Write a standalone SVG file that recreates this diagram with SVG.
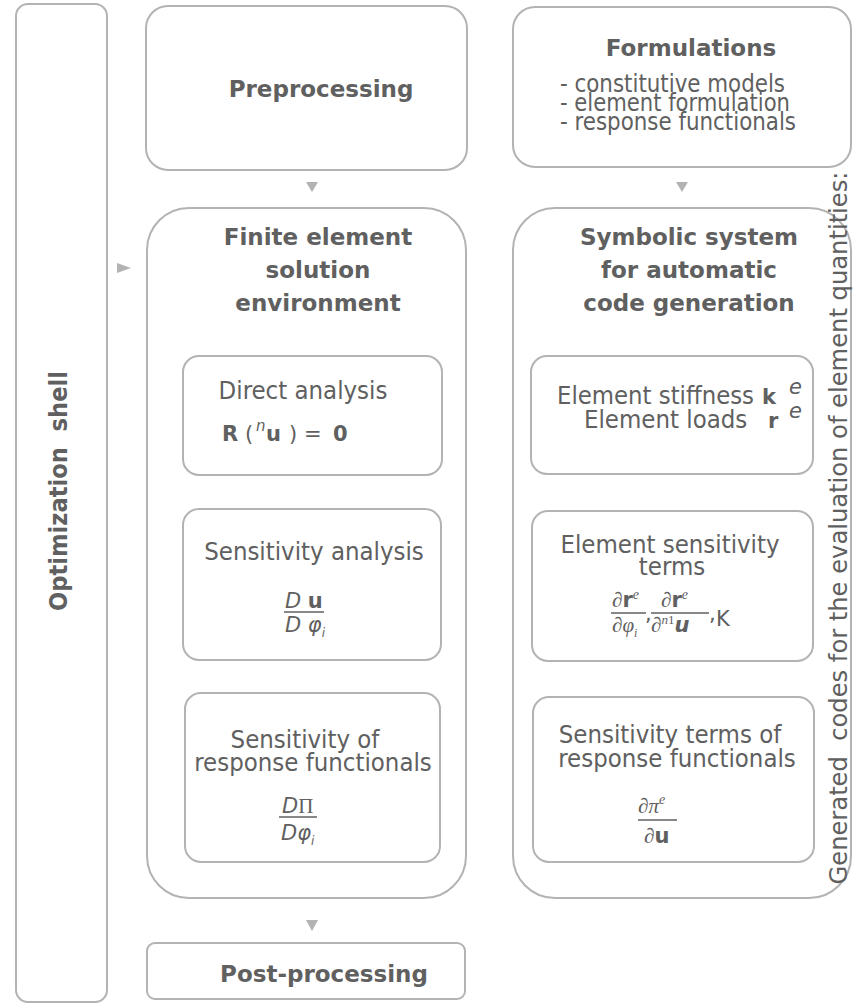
<svg xmlns="http://www.w3.org/2000/svg" width="853" height="1005" viewBox="0 0 853 1005">
<style>
.box{fill:#fff;stroke:#b3b3b3;stroke-width:2}
.h{font-family:"DejaVu Sans",sans-serif;font-weight:bold;font-size:23px;fill:#606060}
.t{font-family:"DejaVu Sans Condensed","DejaVu Sans",sans-serif;font-stretch:condensed;font-size:25.5px;fill:#606060}
.m{font-family:"DejaVu Sans",sans-serif;font-size:21px;fill:#606060}
.s{font-family:"Liberation Serif",serif;font-size:21px;fill:#606060}
.b{font-weight:bold}
.i{font-style:italic}
.fl{stroke:#606060;stroke-width:1.3}
.arr{fill:#b3b3b3}
</style>
<rect width="853" height="1005" fill="#fff"/>
<g id="optimization-shell">
<rect class="box" x="16" y="4" width="91" height="998" rx="12"/>
<text class="t b" xml:space="preserve" transform="translate(67,491) rotate(-90)" text-anchor="middle" font-size="29" textLength="240" lengthAdjust="spacingAndGlyphs">Optimization  shell</text>
</g>
<g id="preprocessing">
<rect class="box" x="146" y="6" width="321" height="164" rx="22"/>
<text class="h" x="321" y="97" text-anchor="middle">Preprocessing</text>
</g>
<g id="formulations">
<rect class="box" x="513" y="7" width="338" height="160" rx="22"/>
<text class="h" x="691" y="56" text-anchor="middle">Formulations</text>
<text class="t" x="560" y="92" textLength="225" lengthAdjust="spacingAndGlyphs">- constitutive models</text>
<text class="t" x="560" y="111" textLength="230" lengthAdjust="spacingAndGlyphs">- element formulation</text>
<text class="t" x="560" y="130" textLength="236" lengthAdjust="spacingAndGlyphs">- response functionals</text>
</g>
<g id="fe-environment">
<rect class="box" x="147" y="208" width="319" height="690" rx="42"/>
<text class="h" text-anchor="middle"><tspan x="318" y="245">Finite element</tspan><tspan x="318" y="278">solution</tspan><tspan x="318" y="311">environment</tspan></text>
</g>
<g id="direct-analysis">
<rect class="box" x="183" y="356" width="259" height="119" rx="16"/>
<text class="t" x="303" y="399" text-anchor="middle">Direct analysis</text>
<text class="m" y="441" font-size="24"><tspan class="b" x="222">R</tspan><tspan x="245">(</tspan><tspan class="i" x="256" y="431" font-size="15">n</tspan><tspan class="b" x="266" y="441">u</tspan><tspan x="289">)</tspan><tspan x="304">=</tspan><tspan class="b" x="333">0</tspan></text>
</g>
<g id="sensitivity-analysis">
<rect class="box" x="183" y="509" width="258" height="151" rx="16"/>
<text class="t" x="314" y="560" text-anchor="middle">Sensitivity analysis</text>
<text class="m" x="285" y="608"><tspan class="i">D</tspan> <tspan class="b">u</tspan></text>
<line class="fl" x1="284" y1="612" x2="324" y2="612"/>
<text class="m" x="285" y="632"><tspan class="i">D</tspan> <tspan class="i">φ</tspan><tspan class="i" font-size="12" dy="5">i</tspan></text>
</g>
<g id="sensitivity-response">
<rect class="box" x="185" y="693" width="255" height="169" rx="16"/>
<text class="t" x="305" y="748" text-anchor="middle">Sensitivity of</text>
<text class="t" x="313" y="771" text-anchor="middle">response functionals</text>
<text class="m" x="282" y="813"><tspan class="i">D</tspan><tspan font-family="Liberation Serif, serif">Π</tspan></text>
<line class="fl" x1="279" y1="817" x2="317" y2="817"/>
<text class="m" x="281" y="840"><tspan class="i">Dφ</tspan><tspan class="i" font-size="12" dy="5">i</tspan></text>
</g>
<g id="post-processing">
<rect class="box" x="147" y="943" width="318" height="56" rx="8"/>
<text class="h" x="324" y="982" text-anchor="middle">Post-processing</text>
</g>
<g id="symbolic-system">
<rect class="box" x="513" y="208" width="338" height="690" rx="42"/>
<text class="h" text-anchor="middle"><tspan x="689" y="245">Symbolic system</tspan><tspan x="689" y="278">for automatic</tspan><tspan x="689" y="311">code generation</tspan></text>
</g>
<g id="element-stiffness">
<rect class="box" x="531" y="356" width="282" height="118" rx="16"/>
<text class="t" x="557" y="404" textLength="197" lengthAdjust="spacingAndGlyphs">Element stiffness</text>
<text class="m b" x="762" y="404" font-size="25">k</text>
<text class="m i" x="789" y="394" font-size="19">e</text>
<text class="t" x="584" y="428">Element loads</text>
<text class="m b" x="768" y="428" font-size="25">r</text>
<text class="m i" x="789" y="418" font-size="19">e</text>
</g>
<g id="element-sensitivity">
<rect class="box" x="532" y="511" width="281" height="150" rx="16"/>
<text class="t" x="670" y="553" text-anchor="middle">Element sensitivity</text>
<text class="t" x="672" y="575" text-anchor="middle">terms</text>
<text class="s" x="612" y="607">∂<tspan class="m b" font-size="19">r</tspan><tspan class="i" font-size="14" dy="-8">e</tspan></text>
<line class="fl" x1="611" y1="613" x2="646" y2="613"/>
<text class="s" x="612" y="632">∂<tspan class="i">φ</tspan><tspan class="i" font-size="12" dy="5">i</tspan></text>
<text class="m" x="645" y="621" font-size="19">,</text>
<text class="s" x="661" y="607">∂<tspan class="m b" font-size="19">r</tspan><tspan class="i" font-size="14" dy="-8">e</tspan></text>
<line class="fl" x1="651" y1="613" x2="709" y2="613"/>
<text class="s" x="651" y="632">∂<tspan class="i" font-size="13" dy="-8">n</tspan><tspan font-size="13">1</tspan><tspan class="m b i" font-size="19" dy="8">u</tspan></text>
<text class="m" x="709" y="621" font-size="19">,</text>
<text class="m" x="716" y="626" font-size="20">K</text>
</g>
<g id="sensitivity-terms">
<rect class="box" x="533" y="697" width="281" height="165" rx="16"/>
<text class="t" x="670" y="743" text-anchor="middle">Sensitivity terms of</text>
<text class="t" x="677" y="767" text-anchor="middle">response functionals</text>
<text class="s" x="638" y="813" font-size="22">∂<tspan class="i">π</tspan><tspan class="i" font-size="14" dy="-9">e</tspan></text>
<line class="fl" x1="638" y1="820" x2="677" y2="820"/>
<text class="s" x="644" y="843" font-size="22">∂<tspan class="m b" font-size="20">u</tspan></text>
</g>
<g id="generated-codes-label">
<text class="t" xml:space="preserve" transform="translate(847,528) rotate(-90)" text-anchor="middle" font-size="27" textLength="713" lengthAdjust="spacingAndGlyphs">Generated  codes for the evaluation of element quantities:</text>
</g>
<g id="connectors">
<polygon class="arr" points="306,182 318,182 312,192"/>
<polygon class="arr" points="676,182 688,182 682,192"/>
<polygon class="arr" points="117,263 131,268 117,273"/>
<polygon class="arr" points="306,920 318,920 312,931"/>
</g>
</svg>
